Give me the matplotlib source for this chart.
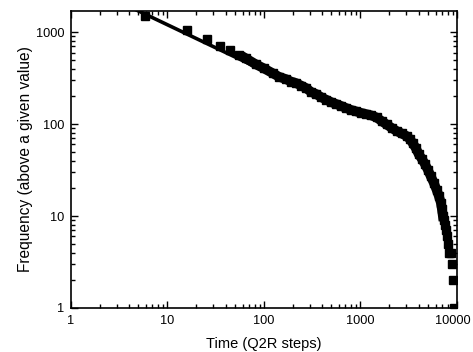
import numpy as np
import matplotlib.pyplot as plt
import matplotlib.transforms as mtransforms
from matplotlib.ticker import LogLocator, NullFormatter

plt.rcParams['font.family'] = ['Liberation Sans', 'DejaVu Sans']

# time (Q2R steps) and number of events lasting longer than it
steps = [5.9, 15.8, 25.5, 34.8, 44.2, 55, 65, 82.6, 100, 124, 143,
         169, 191, 215, 243, 274, 309, 348, 392, 442, 499,
         562, 634, 715, 806, 909, 1024, 1155, 1302, 1468, 1655,
         1866, 2103, 2371, 2673, 3014, 3238, 3481, 3740, 4018, 4317,
         4642, 4987, 5358, 5757, 6190, 6494, 6810, 6980, 7150, 7330,
         7500, 7680, 7870, 8060, 8260, 8660, 8870, 9090, 9300]
freq = [1493, 1052, 839, 709, 637, 562, 518, 446, 403, 356, 327,
        308, 290, 279, 262, 246, 223, 212, 196, 184, 173,
        165, 157, 149, 142, 137, 132, 128, 124, 118, 108,
        99, 91, 84, 79, 74, 69, 62, 55, 47, 42,
        37, 32, 27, 23, 19, 16.5, 14, 12, 10, 9,
        8, 7, 6, 5, 4, 4, 3, 2, 1]

# power-law guide line, exponent -0.5
fit_t = [1, 200]
fit_amp = 3800
fit_exp = -0.5

fig = plt.figure(figsize=(4.73, 3.52), dpi=100)
ax = fig.add_axes([0.150, 0.125, 0.816, 0.844])

ft = np.array(fit_t, dtype=float)
ax.plot(ft, fit_amp * ft ** fit_exp, color='k', lw=2.6, solid_capstyle='butt')

# dense part joins into a band, the sparse head and tail stay separate squares
ax.plot(steps[6:50], freq[6:50], color='k', lw=7, solid_joinstyle='round')
ax.plot(steps, freq, 's', color='k', ms=5.3, mec='k')

ax.set_xscale('log')
ax.set_yscale('log')
ax.set_xlim(1, 10000)
ax.set_ylim(1, 1700)

ax.set_xticks([1, 10, 100, 1000, 10000])
ax.set_xticklabels(['1', '10', '100', '1000', '10000'])
ax.set_yticks([1, 10, 100, 1000])
ax.set_yticklabels(['1', '10', '100', '1000'])
for a in (ax.xaxis, ax.yaxis):
    a.set_minor_locator(LogLocator(base=10, subs=np.arange(2, 10), numticks=20))
    a.set_minor_formatter(NullFormatter())

ax.tick_params(which='both', direction='in', top=True, right=True, width=1.0,
               labelsize=9.2, colors='k')
ax.tick_params(which='major', length=5, pad=5)
ax.tick_params(which='minor', length=3)
for s in ax.spines.values():
    s.set_linewidth(1.2)

# keep the last x label inside the figure
last = ax.get_xticklabels()[-1]
last.set_transform(last.get_transform() +
                   mtransforms.ScaledTranslation(-4 / 100, 0, fig.dpi_scale_trans))

ax.set_xlabel('Time (Q2R steps)', fontsize=10.5, labelpad=7)
ax.set_ylabel('Frequency (above a given value)', fontsize=11.2, labelpad=2)

fig.savefig('out.png', dpi=100)
